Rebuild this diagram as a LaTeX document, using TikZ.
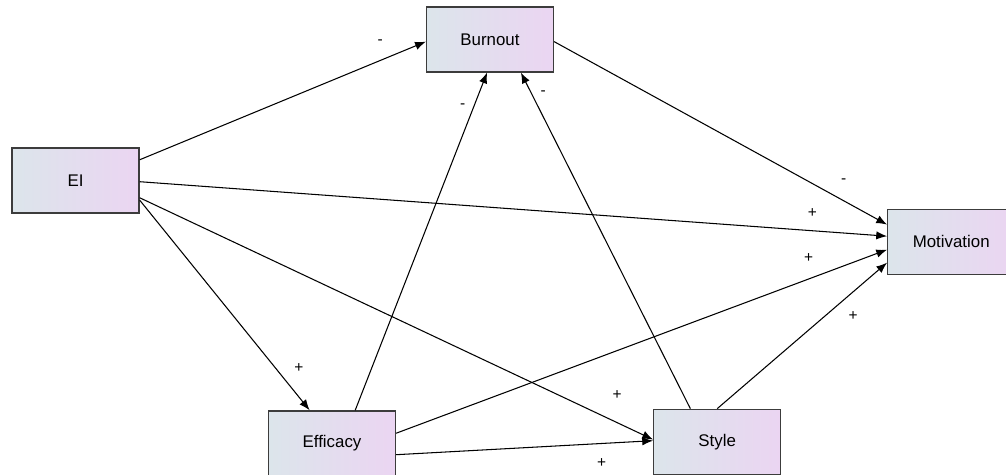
\documentclass[tikz,border=0pt]{standalone}
\usepackage{fontspec}
\setmainfont{Liberation Sans}
\usepackage{xcolor}
\usepackage{tikz}
\usetikzlibrary{arrows.meta,positioning}
\definecolor{boxleft}{HTML}{DCE5EB}
\definecolor{boxright}{HTML}{EBD5F2}
\definecolor{boxline}{HTML}{3C3C3C}
\tikzstyle{var} = [rectangle, minimum width=3.175cm, minimum height=1.625cm, text centered, draw=boxline, line width=0.9pt, left color=boxleft, right color=boxright, font=\fontsize{12}{14}\selectfont]
\tikzstyle{arrow} = [line width=0.75pt, -{Latex[length=2.7mm,width=2.1mm]}]
\tikzstyle{sign} = [font=\fontsize{11}{13}\selectfont, inner sep=1pt]

\begin{document}
\begin{tikzpicture}
	\useasboundingbox (0,0) rectangle (25.15,11.875);
	\coordinate (ei) at (1.89,7.36);
	\coordinate (burnout) at (12.25,10.89);
	\coordinate (efficacy) at (8.30,0.79);
	\coordinate (style) at (17.93,0.83);
	\coordinate (motivation) at (23.78,5.83);
	% Variables
	\node[var, name=ei] at (ei) {EI};
	\node[var, name=burnout] at (burnout) {Burnout};
	\node[var, name=efficacy] at (efficacy) {Efficacy};
	\node[var, name=style] at (style) {Style};
	\node[var, name=motivation] at (motivation) {Motivation};
	% Paths
	\draw [arrow] (ei.18) -- node[sign, pos=0.84, yshift=0.45cm] {-} (burnout.182);
	\draw [arrow] (ei.-1) -- node[sign, pos=0.9, yshift=0.43cm] {+} (motivation.175);
	\draw [arrow] (ei.-15) -- node[sign, pos=0.93, yshift=0.7cm] {+} (style.178);
	\draw [arrow] (ei.-17) -- node[sign, pos=0.8, xshift=0.58cm] {+} (efficacy.124);
	\draw [arrow] (efficacy.55) -- node[sign, pos=0.9, xshift=-0.28cm] {-} (burnout.265);
	\draw [arrow] (style.129) -- node[sign, pos=0.94, xshift=0.3cm] {-} (burnout.-47);
	\draw [arrow] (burnout.-2) -- node[sign, pos=0.87, yshift=0.5cm] {-} (motivation.165);
	\draw [arrow] (efficacy.9) -- node[sign, pos=0.84, yshift=0.52cm] {+} (motivation.187);
	\draw [arrow] (style.north) -- node[sign, pos=0.8, yshift=-0.6cm] {+} (motivation.198);
	\draw [arrow] (efficacy.-10) -- node[sign, pos=0.8, yshift=-0.48cm] {+} (style.179);
\end{tikzpicture}
\end{document}
